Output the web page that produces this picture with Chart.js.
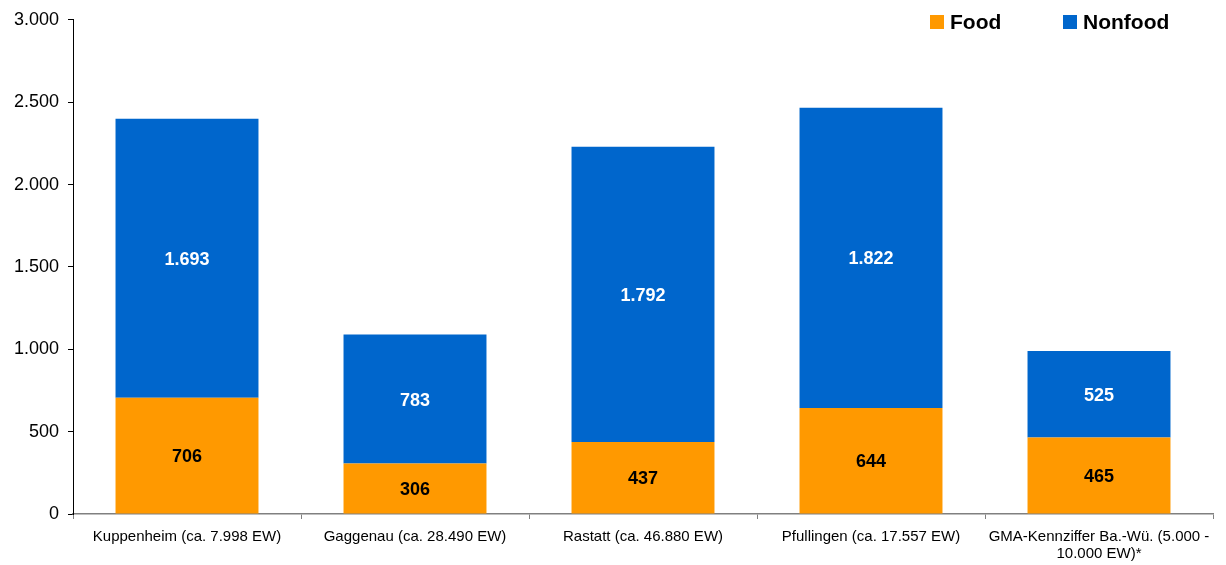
<!DOCTYPE html>
<html>
<head>
<meta charset="utf-8">
<script src="https://cdn.jsdelivr.net/npm/chart.js@4/dist/chart.umd.min.js"></script>
<style>
  body { margin: 0; background: #fff; }
  #wrap { width: 1226px; height: 565px; }
</style>
</head>
<body>
<div id="wrap"><canvas id="myChart" width="1226" height="565"></canvas></div>
<script>
// Verkaufsfläche je Standort, Food / Nonfood
const categories = [
    'Kuppenheim (ca. 7.998 EW)',
    'Gaggenau (ca. 28.490 EW)',
    'Rastatt (ca. 46.880 EW)',
    'Pfullingen (ca. 17.557 EW)',
    ['GMA-Kennziffer Ba.-Wü. (5.000 -', '10.000 EW)*']
];
const food = [706, 306, 437, 644, 465];
const nonfood = [1693, 783, 1792, 1822, 525];
const yTicks = [0, 500, 1000, 1500, 2000, 2500, 3000];

const FONT = '"Liberation Sans", Arial, sans-serif';
const fmt = v => v.toLocaleString('de-DE');

// values written in the middle of each bar segment
const segmentLabels = {
    id: 'segmentLabels',
    afterDatasetsDraw(chart) {
        const ctx = chart.ctx;
        ctx.save();
        ctx.font = 'bold 18px ' + FONT;
        ctx.textAlign = 'center';
        ctx.textBaseline = 'middle';
        chart.data.datasets.forEach((ds, i) => {
            const meta = chart.getDatasetMeta(i);
            ctx.fillStyle = ds.labelColor;
            meta.data.forEach((bar, j) => {
                const p = bar.getProps(['x', 'y', 'base'], true);
                ctx.fillText(fmt(ds.data[j]), p.x, (p.y + p.base) / 2 + 1.5);
            });
        });
        ctx.restore();
    }
};

// legend in the top right corner
const cornerLegend = {
    id: 'cornerLegend',
    afterDraw(chart) {
        const ctx = chart.ctx;
        const pos = [930, 1063];
        ctx.save();
        ctx.font = 'bold 21px ' + FONT;
        ctx.textBaseline = 'middle';
        chart.data.datasets.forEach((ds, i) => {
            ctx.fillStyle = ds.backgroundColor;
            ctx.fillRect(pos[i], 15, 14, 14);
            ctx.fillStyle = '#000';
            ctx.fillText(ds.label, pos[i] + 20, 23);
        });
        ctx.restore();
    }
};

const ctx = document.getElementById('myChart').getContext('2d');
new Chart(ctx, {
    type: 'bar',
    data: {
        labels: categories,
        datasets: [{
            label: 'Food',
            data: food,
            backgroundColor: '#FF9900',
            labelColor: '#000'
        }, {
            label: 'Nonfood',
            data: nonfood,
            backgroundColor: '#0066CC',
            labelColor: '#fff'
        }]
    },
    options: {
        responsive: false,
        animation: false,
        layout: { padding: { top: 18, right: 13, left: 0, bottom: 0 } },
        datasets: {
            bar: { categoryPercentage: 1, barPercentage: 0.627 }
        },
        plugins: {
            legend: { display: false },
            tooltip: { enabled: false }
        },
        scales: {
            x: {
                stacked: true,
                afterFit: s => { s.height = 51; },
                border: { color: '#808080', width: 1.5 },
                grid: { drawOnChartArea: false, tickLength: 5, tickColor: '#808080' },
                ticks: {
                    color: '#000',
                    font: { family: FONT, size: 15, lineHeight: 1.15 },
                    padding: 9,
                    maxRotation: 0,
                    autoSkip: false
                }
            },
            y: {
                stacked: true,
                min: 0,
                max: 3000,
                afterFit: s => { s.width = 73; },
                afterBuildTicks: s => { s.ticks = yTicks.map(v => ({ value: v })); },
                border: { color: '#000', width: 1 },
                grid: { drawOnChartArea: false, tickLength: 5, tickColor: '#000' },
                ticks: {
                    color: '#000',
                    font: { family: FONT, size: 18 },
                    padding: 9,
                    callback: v => fmt(v)
                }
            }
        }
    },
    plugins: [segmentLabels, cornerLegend]
});
</script>
</body>
</html>
